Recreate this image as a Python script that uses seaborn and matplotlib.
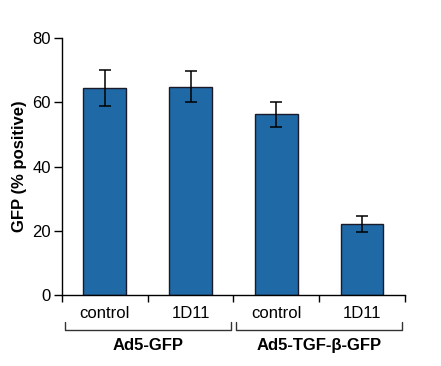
import matplotlib
matplotlib.use("Agg")
import matplotlib.pyplot as plt
import matplotlib.transforms as mtransforms
import numpy as np
import pandas as pd
import seaborn as sns

# --- Data ---
groups = ["Ad5-GFP", "Ad5-GFP", "Ad5-TGF-β-GFP", "Ad5-TGF-β-GFP"]
treatments = ["control", "1D11", "control", "1D11"]
gfp_positive = [64.5, 64.9, 56.3, 22.1]
gfp_err = [5.6, 4.8, 3.9, 2.6]
group_names = ["Ad5-GFP", "Ad5-TGF-β-GFP"]

BAR_COLOR = "#1f69a6"

df = pd.DataFrame({
    "key": [f"{g} {t}" for g, t in zip(groups, treatments)],
    "treatment": treatments,
    "gfp": gfp_positive,
    "err": gfp_err,
})

sns.set_theme(style="ticks")
plt.rcParams["font.family"] = ["Liberation Sans", "DejaVu Sans"]
plt.rcParams.update({"text.color": "black", "axes.labelcolor": "black",
                     "xtick.color": "black", "ytick.color": "black"})

fig = plt.figure(figsize=(4.41, 3.66), dpi=100)
ax = fig.add_axes([0.1406, 0.194, 0.918 - 0.1406, 0.896 - 0.194])

sns.barplot(data=df, x="key", y="gfp", color=BAR_COLOR, width=0.5,
            edgecolor="#1a1a2a", linewidth=1.0, errorbar=None, ax=ax,
            saturation=1)
xpos = np.arange(len(df))
ax.errorbar(xpos, df["gfp"], yerr=df["err"], fmt="none", ecolor="black",
            elinewidth=1.1, capsize=4, capthick=1.1)

ax.set_xlim(-0.5, len(df) - 0.5)
ax.set_ylim(0, 80)
ax.set_yticks([0, 20, 40, 60, 80])
ax.tick_params(axis="y", labelsize=12, length=6, width=1, pad=2, color="black")
ax.set_ylabel("GFP (% positive)", fontsize=12, fontweight="bold", labelpad=4)
ax.set_xlabel("")

ax.set_xticks(xpos)
ax.set_xticklabels(df["treatment"], fontsize=12)
ax.tick_params(axis="x", length=0, pad=8)
ax.set_xticks(np.arange(len(df) + 1) - 0.5, minor=True)
ax.tick_params(axis="x", which="minor", length=5, width=1, direction="out", color="black")

sns.despine(ax=ax)
for s in ["left", "bottom"]:
    ax.spines[s].set_linewidth(1.0)
    ax.spines[s].set_color("black")

# group brackets under the category labels
trans = mtransforms.blended_transform_factory(ax.transData, ax.transAxes)
y_line, y_top, y_text = -0.136, -0.105, -0.195
for i, name in enumerate(group_names):
    x0, x1 = 2 * i - 0.47, 2 * i + 1.47
    ax.plot([x0, x0, x1, x1], [y_top, y_line, y_line, y_top], color="#333333",
            lw=1.0, transform=trans, clip_on=False)
    ax.text(2 * i + 0.5, y_text, name, transform=trans, ha="center", va="center",
            fontsize=12, fontweight="bold")

fig.savefig("out.png", dpi=100)
